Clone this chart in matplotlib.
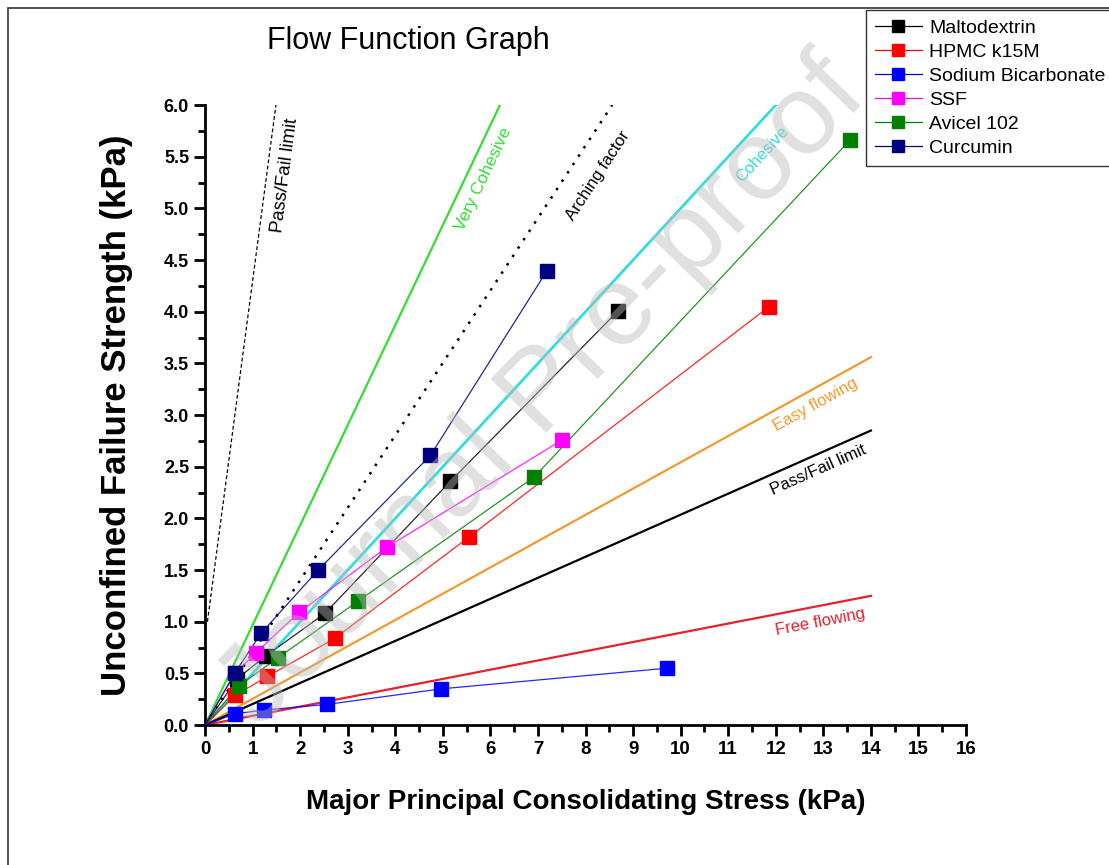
import matplotlib.pyplot as plt
from matplotlib.patches import Rectangle

plt.rcParams['font.family'] = ['Liberation Sans', 'DejaVu Sans']

# --- data: major principal consolidating stress (x) vs unconfined failure strength (y) ---
malto_x = [0.68, 1.28, 2.52, 5.16, 8.69]
malto_y = [0.45, 0.67, 1.08, 2.36, 4.01]
hpmc_x = [0.64, 1.31, 2.73, 5.55, 11.86]
hpmc_y = [0.29, 0.47, 0.84, 1.82, 4.05]
sodium_x = [0.64, 1.24, 2.57, 4.96, 9.71]
sodium_y = [0.11, 0.145, 0.20, 0.35, 0.55]
ssf_x = [0.63, 1.07, 1.98, 3.82, 7.51]
ssf_y = [0.50, 0.70, 1.09, 1.72, 2.76]
avicel_x = [0.71, 1.53, 3.22, 6.92, 13.56]
avicel_y = [0.38, 0.65, 1.20, 2.40, 5.66]
curcumin_x = [0.62, 1.18, 2.38, 4.74, 7.18]
curcumin_y = [0.50, 0.89, 1.50, 2.61, 4.39]

series_names = ['Maltodextrin', 'HPMC k15M', 'Sodium Bicarbonate', 'SSF', 'Avicel 102', 'Curcumin']
series_colors = ['#000000', '#ff0000', '#0000ff', '#ff00ff', '#008000', '#000080']
series_x = [malto_x, hpmc_x, sodium_x, ssf_x, avicel_x, curcumin_x]
series_y = [malto_y, hpmc_y, sodium_y, ssf_y, avicel_y, curcumin_y]

# flow regime boundary lines (start/end points)
passfail_steep_x = [0.05, 1.49]
passfail_steep_y = [1.0, 6.0]
very_cohesive_x = [0, 6.2]
very_cohesive_y = [0, 6.0]
arching_x = [0, 8.56]
arching_y = [0, 6.0]
cohesive_x = [0, 12.0]
cohesive_y = [0, 6.0]
easy_x = [0, 14.0]
easy_y = [0, 3.56]
passfail_x = [0, 14.0]
passfail_y = [0, 2.85]
free_x = [0, 14.0]
free_y = [0, 1.25]

fig = plt.figure(figsize=(11.09, 8.65), dpi=100)
ax = fig.add_axes([0.1849, 0.1618, 0.6862, 0.7168])

# outer frame of the figure
fig.patches.append(Rectangle((0.007, -0.05), 1.1, 1.041, transform=fig.transFigure,
                             fill=False, edgecolor='#333333', linewidth=1.2))

# boundary lines
ax.plot(passfail_steep_x, passfail_steep_y, color='black', linestyle=(0, (3, 2)), linewidth=0.9)
ax.plot(very_cohesive_x, very_cohesive_y, color='#33dd33', linewidth=1.6)
ax.plot(arching_x, arching_y, color='black', linestyle=(0, (1, 3)), linewidth=1.8)
ax.plot(cohesive_x, cohesive_y, color='#33dddd', linewidth=2.0)
ax.plot(easy_x, easy_y, color='#f09a30', linewidth=1.6)
ax.plot(passfail_x, passfail_y, color='black', linewidth=1.6)
ax.plot(free_x, free_y, color='#e8202a', linewidth=1.6)

# data series
for xs, ys, c, n in zip(series_x, series_y, series_colors, series_names):
    ax.plot([0] + xs, [0] + ys, color=c, linewidth=0.9, alpha=0.85, zorder=3)
    ax.plot(xs, ys, linestyle='none', marker='s', markersize=9.5, color=c, zorder=4)
    ax.plot([], [], color=c, linewidth=0.9, marker='s', markersize=9, label=n)

# line annotations
ax.text(1.68, 5.32, 'Pass/Fail limit', rotation=82.5, color='black', fontsize=13.5, ha='center', va='center')
ax.text(5.84, 5.28, 'Very Cohesive', rotation=64.6, color='#33dd33', fontsize=12.5, ha='center', va='center')
ax.text(8.26, 5.32, 'Arching factor', rotation=56.8, color='black', fontsize=12, ha='center', va='center')
ax.text(11.71, 5.52, 'Cohesive', rotation=47.4, color='#33dddd', fontsize=12, ha='center', va='center')
ax.text(12.83, 3.10, 'Easy flowing', rotation=28.9, color='#f09a30', fontsize=12, ha='center', va='center')
ax.text(12.89, 2.47, 'Pass/Fail limit', rotation=23.9, color='black', fontsize=12, ha='center', va='center')
ax.text(12.93, 1.0, 'Free flowing', rotation=10.9, color='#e8202a', fontsize=12, ha='center', va='center')

# watermark
fig.text(0.49, 0.545, 'Journal Pre-proof', rotation=46, fontsize=82, color='#bbbbbb',
         alpha=0.45, ha='center', va='center', zorder=10)

ax.set_xlim(0, 16)
ax.set_ylim(0, 6)
ax.set_xticks(range(0, 17))
ax.set_xticks([i + 0.5 for i in range(16)], minor=True)
ax.set_yticks([i * 0.5 for i in range(13)])
ax.set_yticks([i * 0.25 for i in range(25)], minor=True)
ax.set_yticklabels([f'{i * 0.5:.1f}' for i in range(13)], fontweight='bold', fontsize=13)
ax.set_xticklabels([str(i) for i in range(17)], fontweight='bold', fontsize=13.5)

for s in ['top', 'right']:
    ax.spines[s].set_visible(False)
for s in ['left', 'bottom']:
    ax.spines[s].set_linewidth(2.0)
ax.tick_params(which='major', direction='out', length=8, width=2.0)
ax.tick_params(which='minor', direction='out', length=5, width=2.0)

ax.set_xlabel('Major Principal Consolidating Stress (kPa)', fontsize=20, fontweight='bold', labelpad=22)
ax.set_ylabel('Unconfined Failure Strength (kPa)', fontsize=25, fontweight='bold', labelpad=22)

fig.text(0.368, 0.953, 'Flow Function Graph', fontsize=22, ha='center', va='center')

leg = fig.legend(loc='upper left', bbox_to_anchor=(0.781, 0.988), fontsize=14, frameon=True,
                 fancybox=False, edgecolor='black', labelspacing=0.33, handlelength=2.4,
                 borderpad=0.45, handletextpad=0.4, borderaxespad=0)
leg.get_frame().set_linewidth(1.0)

plt.savefig('out.png', dpi=100)
